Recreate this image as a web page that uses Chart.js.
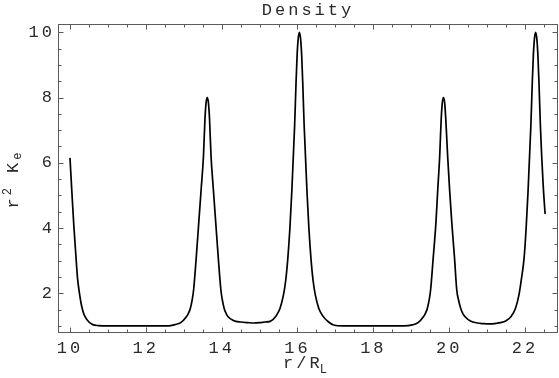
<!DOCTYPE html>
<html><head><meta charset="utf-8">
<script src="https://cdn.jsdelivr.net/npm/chart.js@4.4.1/dist/chart.umd.min.js"></script>
<style>html,body{margin:0;padding:0;background:#fff;overflow:hidden;}</style>
</head><body>
<canvas id="c" width="559" height="378"></canvas>
<script>
// ---- data ----
const rValues = [
  10.00,10.05,10.10,10.15,10.20,10.25,10.30,10.35,10.39,10.50,10.60,10.75,11.00,12.00,
  12.60,12.77,12.92,13.07,13.12,13.17,13.22,13.26,13.33,13.395,13.46,13.52,13.56,13.59,13.62,
  13.65,13.68,13.72,13.78,13.845,13.91,13.98,14.02,14.07,14.12,14.17,14.32,14.50,14.70,14.85,15.00,
  15.15,15.28,15.43,15.54,15.63,15.69,15.745,15.80,15.85,15.925,15.96,15.99,16.02,16.05,
  16.08,16.11,16.14,16.175,16.25,16.30,16.355,16.41,16.47,16.56,16.67,16.82,16.95,17.20,18.00,
  18.80,19.03,19.18,19.32,19.37,19.42,19.47,19.51,19.58,19.65,19.70,19.75,19.79,19.82,19.85,
  19.88,19.91,19.96,20.01,20.07,20.14,20.20,20.25,20.31,20.36,20.42,20.56,20.74,20.90,21.05,21.20,21.35,
  21.49,21.64,21.75,21.84,21.90,21.975,22.03,22.08,22.155,22.19,22.22,22.25,22.28,
  22.31,22.34,22.37,22.405,22.48,22.53
];
const densityValues = [
  6.15,5.1,4.1,3.25,2.45,2.0,1.65,1.42,1.3,1.12,1.04,1.01,1.0,1.0,
  1.0,1.04,1.1,1.28,1.38,1.52,1.78,2.1,3.1,4.15,5.2,6.2,7.35,7.85,8.0,
  7.85,7.35,6.2,5.2,4.15,3.1,2.1,1.78,1.52,1.38,1.28,1.16,1.12,1.1,1.09,1.1,
  1.12,1.14,1.3,1.54,1.95,2.4,3.07,4.0,5.12,7.16,8.4,9.3,9.82,10.0,
  9.82,9.3,8.4,7.16,5.12,4.0,3.07,2.4,1.95,1.54,1.3,1.12,1.03,1.0,1.0,
  1.0,1.03,1.1,1.28,1.38,1.52,1.78,2.1,3.1,4.15,5.2,6.2,7.35,7.85,8.0,
  7.85,7.35,6.2,5.2,4.15,3.1,2.1,1.78,1.52,1.38,1.28,1.15,1.09,1.07,1.06,1.07,1.1,
  1.15,1.3,1.54,1.95,2.4,3.07,4.0,5.12,7.16,8.4,9.3,9.82,10.0,
  9.82,9.3,8.4,7.16,5.3,4.43
];
const xTickValues = [10,12,14,16,18,20,22];
const yTickValues = [2,4,6,8,10];
const minorStep = 0.5;
const chartTitle = 'Density';

const FONT = "'Liberation Mono', 'DejaVu Sans Mono', monospace";
const SPACING = '3px';
const TEXT = '#2a2a2a';

const spacingPlugin = {
  id: 'spacing',
  beforeUpdate(chart){ chart.ctx.letterSpacing = SPACING; },
  beforeDraw(chart){ chart.ctx.letterSpacing = SPACING; }
};

const framePlugin = {
  id: 'frame',
  afterDraw(chart){
    const {ctx, chartArea: ca, scales: {x, y}} = chart;
    ctx.save();
    ctx.strokeStyle = '#5a5a5a';
    ctx.lineWidth = 1;
    const L = Math.round(ca.left) + 0.5, R = Math.round(ca.right) - 0.5;
    const T = Math.round(ca.top) + 0.5, B = Math.round(ca.bottom) - 0.5;
    ctx.strokeRect(L, T, R - L, B - T);
    ctx.beginPath();
    for (let v = Math.ceil(x.min / minorStep) * minorStep; v <= x.max + 1e-9; v += minorStep) {
      const major = xTickValues.some(t => Math.abs(t - v) < 1e-6);
      const len = major ? 5 : 3;
      const px = Math.round(x.getPixelForValue(v)) + 0.5;
      ctx.moveTo(px, B); ctx.lineTo(px, B - len);
      ctx.moveTo(px, T); ctx.lineTo(px, T + len);
    }
    for (let v = Math.ceil(y.min / minorStep) * minorStep; v <= y.max + 1e-9; v += minorStep) {
      const major = yTickValues.some(t => Math.abs(t - v) < 1e-6);
      const len = major ? 5 : 3;
      const py = Math.round(y.getPixelForValue(v)) + 0.5;
      ctx.moveTo(L, py); ctx.lineTo(L + len, py);
      ctx.moveTo(R, py); ctx.lineTo(R - len, py);
    }
    ctx.stroke();
    ctx.restore();
  }
};

const axisLabelPlugin = {
  id: 'axisLabels',
  afterDraw(chart){
    const {ctx, chartArea: ca} = chart;
    const big = '17px ' + FONT, small = '12px ' + FONT;
    ctx.save();
    ctx.fillStyle = TEXT;
    ctx.letterSpacing = SPACING;
    ctx.textAlign = 'left';
    ctx.textBaseline = 'alphabetic';
    // x axis label r/R_L
    ctx.font = big; const w1 = ctx.measureText('r/R').width;
    ctx.font = small; const w2 = ctx.measureText('L').width;
    const x0 = (ca.left + ca.right) / 2 - (w1 + w2) / 2;
    ctx.font = big; ctx.fillText('r/R', x0, 368);
    ctx.font = small; ctx.fillText('L', x0 + w1 - 3, 373);
    // y axis label r^2 K_e
    ctx.translate(18, (ca.top + ca.bottom) / 2);
    ctx.rotate(-Math.PI / 2);
    const parts = [['r', big, 0], ['2', small, -7], [' K', big, 0], ['e', small, 3]];
    let total = 0;
    parts.forEach(p => { ctx.font = p[1]; p.push(ctx.measureText(p[0]).width); total += p[3]; });
    let cx = -total / 2;
    parts.forEach(p => { ctx.font = p[1]; ctx.fillText(p[0], cx, p[2]); cx += p[3] - (p[1] === small ? 1 : 0); });
    ctx.restore();
  }
};

new Chart(document.getElementById('c'), {
  type: 'line',
  data: {
    datasets: [{
      data: rValues.map((r, i) => ({x: r, y: densityValues[i]})),
      borderColor: '#000',
      borderWidth: 1.7,
      pointRadius: 0,
      fill: false,
      cubicInterpolationMode: 'monotone'
    }]
  },
  options: {
    responsive: false,
    animation: false,
    devicePixelRatio: 1,
    layout: {padding: {top: 0, right: 1, left: 0, bottom: 0}},
    plugins: {
      legend: {display: false},
      tooltip: {enabled: false},
      title: {
        display: true, text: chartTitle, fullSize: false,
        color: TEXT,
        font: {family: FONT, size: 17, weight: 'normal', lineHeight: 20 / 17},
        padding: {top: 0, bottom: 4}
      }
    },
    scales: {
      x: {
        type: 'linear', min: 9.684, max: 22.87,
        afterBuildTicks: s => { s.ticks = xTickValues.map(v => ({value: v})); },
        afterFit: s => { s.height = 45; },
        grid: {display: false, drawTicks: false},
        border: {display: false},
        ticks: {color: TEXT, padding: 5, maxRotation: 0, autoSkip: false,
          font: {family: FONT, size: 17}}
      },
      y: {
        type: 'linear', min: 0.783, max: 10.254,
        afterBuildTicks: s => { s.ticks = yTickValues.map(v => ({value: v})); },
        afterFit: s => { s.width = 58; },
        grid: {display: false, drawTicks: false},
        border: {display: false},
        ticks: {color: TEXT, padding: 3, autoSkip: false,
          font: {family: FONT, size: 17}}
      }
    }
  },
  plugins: [spacingPlugin, framePlugin, axisLabelPlugin]
});
</script>
</body></html>
